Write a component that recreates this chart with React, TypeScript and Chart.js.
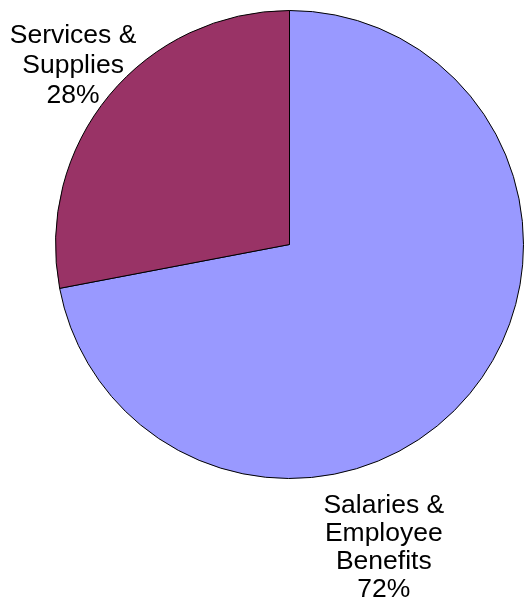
import React, { useEffect, useRef } from "react";
import { Chart, registerables } from "chart.js";

Chart.register(...registerables);

const categories = ["Salaries & Employee Benefits", "Services & Supplies"];
const values = [72, 28];
const colors = ["#9999FF", "#993366"];
const labelLines = [
  ["Salaries &", "Employee", "Benefits", "72%"],
  ["Services &", "Supplies", "28%"],
];
// label centers (first line) relative to pie center, in units of radius
const labelAnchors = [
  { dx: 0.403, dy: 1.117, lh: 28 },
  { dx: -0.925, dy: -0.893, lh: 30 },
];

const labelPlugin = {
  id: "outerLabels",
  afterDraw(chart: any) {
    const meta = chart.getDatasetMeta(0);
    const arc = meta.data[0];
    if (!arc) return;
    const { x, y, outerRadius } = arc.getProps(["x", "y", "outerRadius"], true);
    const ctx = chart.ctx;
    ctx.save();
    ctx.fillStyle = "#000";
    ctx.font = "26.5px 'Liberation Sans', Arial, sans-serif";
    ctx.textAlign = "center";
    ctx.textBaseline = "middle";
    labelLines.forEach((lines, i) => {
      const a = labelAnchors[i];
      const cx = x + a.dx * outerRadius;
      const cy = y + a.dy * outerRadius;
      lines.forEach((t, j) => ctx.fillText(t, cx, cy + j * a.lh));
    });
    ctx.restore();
  },
};

export default function App() {
  const ref = useRef<HTMLCanvasElement>(null);
  useEffect(() => {
    if (!ref.current) return;
    const chart = new Chart(ref.current, {
      type: "pie",
      data: {
        labels: categories,
        datasets: [
          {
            data: values,
            backgroundColor: colors,
            borderColor: "#000",
            borderWidth: 1,
          },
        ],
      },
      options: {
        responsive: false,
        animation: false,
        layout: { padding: { left: 55, right: 0, top: 10, bottom: 127 } },
        plugins: { legend: { display: false }, tooltip: { enabled: false } },
      },
      plugins: [labelPlugin],
    });
    return () => chart.destroy();
  }, []);
  return (
    <div style={{ position: "fixed", left: 0, top: 0, width: 524, height: 606, background: "#fff" }}>
      <canvas ref={ref} width={524} height={606} />
    </div>
  );
}
